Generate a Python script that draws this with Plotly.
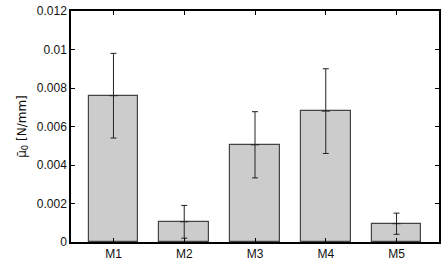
import plotly.graph_objects as go

categories = ["M1", "M2", "M3", "M4", "M5"]
means = [0.0076, 0.00105, 0.00505, 0.0068, 0.00095]
errors = [0.0022, 0.00085, 0.00172, 0.0022, 0.00055]

xpos = list(range(1, len(categories) + 1))

fig = go.Figure()
fig.add_trace(go.Bar(
    x=xpos, y=means, width=0.7,
    marker=dict(color="#cccccc", line=dict(color="#444444", width=1.2)),
    error_y=dict(type="data", array=errors, visible=True, color="#222222",
                 thickness=1, width=3),
    showlegend=False,
))
fig.add_trace(go.Scatter(
    x=xpos, y=means, mode="markers",
    marker=dict(symbol="line-ew", size=6, line=dict(color="#222222", width=1)),
    showlegend=False,
))

fig.update_layout(
    width=445, height=266,
    margin=dict(l=71, r=4, t=8, b=24),
    plot_bgcolor="white", paper_bgcolor="white",
    font=dict(family="Liberation Sans, Arial, sans-serif", size=12, color="#111111"),
    bargap=0,
)
fig.update_xaxes(
    range=[0.4, 5.6], tickvals=xpos, ticktext=categories,
    showline=True, linecolor="black", linewidth=1.5, mirror="ticks",
    ticks="inside", ticklen=4, tickcolor="black", showgrid=False, zeroline=False,
    tickfont=dict(size=12),
)
fig.update_yaxes(
    range=[0, 0.012], dtick=0.002, tickformat="~g",
    showline=True, linecolor="black", linewidth=1.5, mirror="ticks",
    ticks="inside", ticklen=4, tickcolor="black", showgrid=False, zeroline=False,
    tickfont=dict(size=12),
    title=dict(text="μ\u0304<sub>0</sub> [N/mm]", standoff=8,
               font=dict(size=12, family="DejaVu Sans, sans-serif")),
)

fig.write_html("out.html")
